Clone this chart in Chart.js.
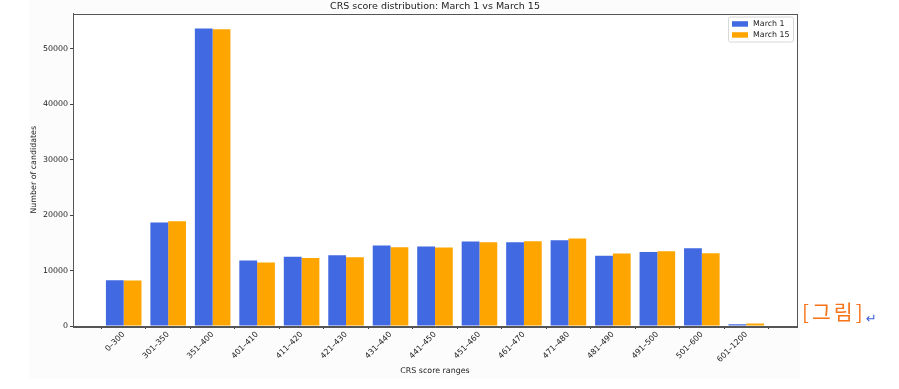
<!DOCTYPE html>
<html>
<head>
<meta charset="utf-8">
<script src="https://cdn.jsdelivr.net/npm/chart.js@4/dist/chart.umd.min.js"></script>
<style>
  html,body{margin:0;padding:0;background:#fff;}
  .page{position:relative;width:899px;height:389px;overflow:hidden;}
  .fig{position:absolute;left:29px;top:0;width:771px;height:378px;background:#fcfcfc;}
  #chart{position:absolute;left:0;top:0;}
  .tag{position:absolute;left:802px;top:296px;font-family:"Noto Sans CJK KR";font-size:20.5px;color:#f77319;letter-spacing:3px;}
  .ret{position:absolute;left:866px;top:311px;font-family:"DejaVu Sans";font-size:13px;color:#3a5fd9;}
</style>
</head>
<body>
<div class="page">
  <div class="fig"></div>
  <canvas id="chart" width="870" height="389"></canvas>
  <span class="tag">[그림]</span><span class="ret">↵</span>
</div>
<script>
// CRS score ranges and candidate counts
const scoreRanges = ['0–300','301–350','351–400','401–410','411–420','421–430','431–440','441–450',
                     '451–460','461–470','471–480','481–490','491–500','501–600','601–1200'];
const march1  = [8250, 18660, 53700, 11800, 12520, 12760, 14510, 14330, 15230, 15100, 15470, 12700, 13360, 14020, 300];
const march15 = [8230, 18900, 53550, 11440, 12280, 12400, 14200, 14150, 15100, 15290, 15770, 13070, 13480, 13120, 430];
const yTicks  = [0, 10000, 20000, 30000, 40000, 50000];
const chartTitle = 'CRS score distribution: March 1 vs March 15';

const FONT = 'DejaVu Sans';
const small = {family:FONT, size:7.9};

// matplotlib-like frame round the plot area, title centred over the axes
const framePlugin = {
  id:'frame',
  beforeDraw(chart){
    const a = chart.chartArea, ctx = chart.ctx;
    ctx.save(); ctx.fillStyle = '#ffffff'; ctx.fillRect(a.left, a.top, a.right-a.left, a.bottom-a.top); ctx.restore();
  },
  afterDraw(chart){
    const a = chart.chartArea, ctx = chart.ctx;
    ctx.save();
    ctx.strokeStyle = '#555'; ctx.lineWidth = 1;
    ctx.strokeRect(Math.round(a.left)+0.5, Math.round(a.top)+0.5, Math.round(a.right-a.left), Math.round(a.bottom-a.top));
    ctx.font = '9.5px "' + FONT + '"'; ctx.fillStyle = '#222';
    ctx.textAlign = 'center'; ctx.textBaseline = 'alphabetic';
    ctx.fillText(chartTitle, (a.left+a.right)/2, a.top - 5);
    ctx.restore();
  }
};

// legend box in the upper right corner, inside the axes
const legendPlugin = {
  id:'innerLegend',
  afterDraw(chart){
    const a = chart.chartArea, ctx = chart.ctx;
    const sets = chart.data.datasets;
    const w = 65, h = 25, x = a.right - w - 4, y = a.top + 3;
    ctx.save();
    ctx.fillStyle = 'rgba(255,255,255,0.8)';
    ctx.strokeStyle = '#d8d8d8'; ctx.lineWidth = 1;
    ctx.beginPath(); ctx.roundRect(x+0.5, y+0.5, w, h, 2); ctx.fill(); ctx.stroke();
    ctx.font = '7.9px "' + FONT + '"'; ctx.textBaseline = 'middle';
    sets.forEach((ds, i) => {
      const cy = y + 7.5 + i*11;
      ctx.fillStyle = ds.backgroundColor;
      ctx.fillRect(x+4, cy-2.8, 16, 5.5);
      ctx.fillStyle = '#222';
      ctx.fillText(ds.label, x+25, cy);
    });
    ctx.restore();
  }
};

new Chart(document.getElementById('chart'), {
  type:'bar',
  data:{
    datasets:[
      { label:'March 1',  data:march1.map((v,i)=>({x:i, y:v})),  backgroundColor:'#4169e1' },
      { label:'March 15', data:march15.map((v,i)=>({x:i, y:v})), backgroundColor:'#ffa500' }
    ]
  },
  options:{
    responsive:false, animation:false, devicePixelRatio:1,
    categoryPercentage:0.8, barPercentage:1.0,
    layout:{ padding:{ top:13.5, right:73, bottom:0, left:0 } },
    plugins:{ legend:{ display:false }, tooltip:{ enabled:false }, title:{ display:false } },
    scales:{
      x:{
        type:'linear', min:-1.14, max:15.14, offset:false,
        afterBuildTicks:s=>{ s.ticks = scoreRanges.map((_,i)=>({value:i})); },
        afterFit:s=>{ s.height = 63; },
        ticks:{ callback:v=>scoreRanges[v], minRotation:45, maxRotation:45, autoSkip:false, color:'#222', font:small, padding:1 },
        grid:{ drawOnChartArea:false, drawTicks:true, tickLength:3, color:'#444' },
        border:{ color:'#555' },
        title:{ display:true, text:'CRS score ranges', color:'#222', font:small, padding:{top:0, bottom:13.5} }
      },
      y:{
        min:0, max:56400,
        afterBuildTicks:s=>{ s.ticks = yTicks.map(v=>({value:v})); },
        afterFit:s=>{ s.width = 73; },
        ticks:{ callback:v=>String(v), color:'#222', font:small, padding:2 },
        grid:{ drawOnChartArea:false, drawTicks:true, tickLength:3, color:'#444' },
        border:{ color:'#555' },
        title:{ display:true, text:'Number of candidates', color:'#222', font:small, padding:{top:29, bottom:0} }
      }
    }
  },
  plugins:[framePlugin, legendPlugin]
});
</script>
</body>
</html>
